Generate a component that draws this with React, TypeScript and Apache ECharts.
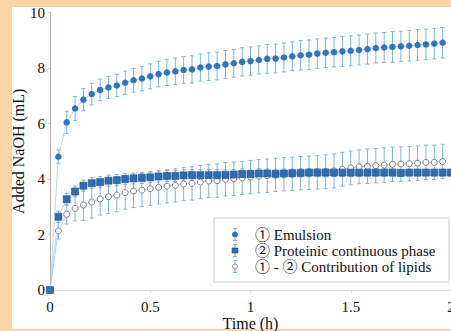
import React, { useEffect, useRef } from "react";
import * as echarts from "echarts";

// time in minutes (every 2.5 min)
const timeMin = [
  0, 2.5, 5, 7.5, 10, 12.5, 15, 17.5, 20, 22.5, 25, 27.5, 30, 32.5, 35, 37.5,
  40, 42.5, 45, 47.5, 50, 52.5, 55, 57.5, 60, 62.5, 65, 67.5, 70, 72.5, 75,
  77.5, 80, 82.5, 85, 87.5, 90, 92.5, 95, 97.5, 100, 102.5, 105, 107.5, 110,
  112.5, 115, 117.5, 120,
];

const emulsion = [
  0, 4.8, 6.04, 6.54, 6.86, 7.06, 7.21, 7.3, 7.37, 7.47, 7.56, 7.62, 7.7,
  7.78, 7.84, 7.88, 7.93, 7.95, 8.02, 8.05, 8.07, 8.13, 8.17, 8.22, 8.25, 8.29,
  8.33, 8.34, 8.38, 8.42, 8.46, 8.48, 8.52, 8.55, 8.57, 8.6, 8.62, 8.65, 8.68,
  8.72, 8.74, 8.76, 8.78, 8.8, 8.83, 8.85, 8.88, 8.91,
];
const emulsionErr = [
  0, 0.25, 0.4, 0.43, 0.4, 0.39, 0.39, 0.4, 0.4, 0.42, 0.43, 0.44, 0.45, 0.46,
  0.47, 0.48, 0.48, 0.49, 0.49, 0.5, 0.5, 0.5, 0.5, 0.51, 0.51, 0.51, 0.52,
  0.52, 0.52, 0.52, 0.53, 0.53, 0.53, 0.53, 0.53, 0.54, 0.54, 0.54, 0.54, 0.54,
  0.54, 0.55, 0.55, 0.55, 0.55, 0.55, 0.55, 0.55,
];

const protein = [
  0, 2.64, 3.27, 3.55, 3.76, 3.85, 3.89, 3.94, 3.96, 4.0, 4.02, 4.04, 4.06,
  4.09, 4.11, 4.11, 4.13, 4.14, 4.14, 4.14, 4.14, 4.15, 4.16, 4.18, 4.18, 4.2,
  4.2, 4.19, 4.2, 4.21, 4.22, 4.23, 4.23, 4.23, 4.23, 4.23, 4.23, 4.23, 4.23,
  4.23, 4.23, 4.23, 4.22, 4.23, 4.23, 4.23, 4.23, 4.23, 4.23,
];
const proteinErr = [
  0, 0.2, 0.22, 0.2, 0.2, 0.2, 0.2, 0.2, 0.2, 0.2, 0.2, 0.2, 0.2, 0.2, 0.2,
  0.2, 0.2, 0.2, 0.2, 0.2, 0.2, 0.18, 0.18, 0.18, 0.17, 0.17, 0.16, 0.16, 0.16,
  0.15, 0.15, 0.15, 0.15, 0.15, 0.14, 0.14, 0.14, 0.14, 0.13, 0.13, 0.13, 0.13,
  0.13, 0.12, 0.12, 0.12, 0.12, 0.12, 0.12,
];

const lipids = [
  0, 2.13, 2.73, 2.94, 3.06, 3.17, 3.28, 3.36, 3.42, 3.51, 3.57, 3.6, 3.65,
  3.7, 3.74, 3.77, 3.82, 3.84, 3.89, 3.93, 3.94, 3.99, 4.01, 4.04, 4.07, 4.1,
  4.12, 4.15, 4.17, 4.19, 4.21, 4.22, 4.24, 4.26, 4.29, 4.35, 4.4, 4.44, 4.46,
  4.48, 4.5, 4.53, 4.54, 4.55, 4.57, 4.6, 4.6, 4.63,
];
const lipidsErr = [
  0, 0.3, 0.35, 0.45, 0.55, 0.58, 0.58, 0.6, 0.6, 0.6, 0.6, 0.6, 0.6, 0.6,
  0.6, 0.6, 0.6, 0.6, 0.6, 0.6, 0.6, 0.6, 0.6, 0.6, 0.6, 0.6, 0.6, 0.6, 0.6,
  0.6, 0.6, 0.6, 0.6, 0.61, 0.61, 0.61, 0.61, 0.61, 0.62, 0.62, 0.62, 0.62,
  0.62, 0.62, 0.62, 0.62, 0.62, 0.62,
];

const xTicks = [0, 0.5, 1, 1.5, 2];
const yTicks = [0, 2, 4, 6, 8, 10];
const seriesNames = [
  "① Emulsion",
  "② Proteinic continuous phase",
  "① - ② Contribution of lipids",
];

const FONT = "'Liberation Serif', 'Times New Roman', 'Noto Sans CJK JP', serif";
const ERR_COLOR = "#7DB5E0";
const LINE_COLOR = "#A9CBEA";
const EMU_COLOR = "#2F74C0";
const SQ_COLOR = "#2E6DB5";
const SQ_BORDER = "#1F4E85";
const CIRC_BORDER = "#7F7F7F";

function pts(vals: number[]) {
  return vals.map((v, i) => [timeMin[i] / 60, v]);
}
function errPts(vals: number[], errs: number[]) {
  return vals.map((v, i) => [timeMin[i] / 60, v - errs[i], v + errs[i]]);
}

function errorRender(params: any, api: any) {
  const x = api.value(0);
  const lo = api.coord([x, api.value(1)]);
  const hi = api.coord([x, api.value(2)]);
  if (Math.abs(hi[1] - lo[1]) < 0.5) return { type: "group", children: [] };
  const style = { stroke: ERR_COLOR, lineWidth: 1 };
  const cap = 2;
  return {
    type: "group",
    children: [
      { type: "line", shape: { x1: lo[0], y1: lo[1], x2: hi[0], y2: hi[1] }, style },
      { type: "line", shape: { x1: lo[0] - cap, y1: lo[1], x2: lo[0] + cap, y2: lo[1] }, style },
      { type: "line", shape: { x1: hi[0] - cap, y1: hi[1], x2: hi[0] + cap, y2: hi[1] }, style },
    ],
  };
}

function legendGraphic() {
  const bx = 214;
  const by = 218;
  const mx = 235;
  const tx = 255;
  const rows = [234.5, 250.5, 266.5];
  const children: any[] = [
    {
      type: "rect",
      shape: { x: bx, y: by, width: 235, height: 64 },
      style: { fill: "#fff", stroke: "#CFCFCF", lineWidth: 1 },
    },
  ];
  rows.forEach((ry, i) => {
    const s = { stroke: ERR_COLOR, lineWidth: 1 };
    children.push({ type: "line", shape: { x1: mx, y1: ry - 6, x2: mx, y2: ry + 6 }, style: s });
    children.push({ type: "line", shape: { x1: mx - 2, y1: ry - 6, x2: mx + 2, y2: ry - 6 }, style: s });
    children.push({ type: "line", shape: { x1: mx - 2, y1: ry + 6, x2: mx + 2, y2: ry + 6 }, style: s });
    if (i === 0) {
      children.push({ type: "circle", shape: { cx: mx, cy: ry, r: 3 }, style: { fill: EMU_COLOR } });
    } else if (i === 1) {
      children.push({
        type: "rect",
        shape: { x: mx - 3, y: ry - 2.5, width: 6, height: 5 },
        style: { fill: SQ_COLOR, stroke: SQ_BORDER, lineWidth: 0.6 },
      });
    } else {
      children.push({
        type: "circle",
        shape: { cx: mx, cy: ry, r: 2.5 },
        style: { fill: "#fff", stroke: CIRC_BORDER, lineWidth: 1 },
      });
    }
    children.push({
      type: "text",
      x: tx,
      y: ry,
      style: {
        text: seriesNames[i],
        font: `15px ${FONT}`,
        fill: "#111",
        verticalAlign: "middle",
        align: "left",
      },
    });
  });
  return { type: "group", z: 100, children };
}

export default function App() {
  const ref = useRef<HTMLDivElement>(null);
  useEffect(() => {
    if (!ref.current) return;
    const chart = echarts.init(ref.current, undefined, { renderer: "svg" });
    const tickStyle = { fontFamily: FONT, fontSize: 15, color: "#111" };
    const nameStyle = { fontFamily: FONT, fontSize: 16, color: "#111" };
    chart.setOption({
      animation: false,
      backgroundColor: "transparent",
      grid: {
        left: 50,
        top: 12.5,
        right: 0,
        bottom: 41,
        containLabel: false,
        outerBoundsMode: "none",
      },
      xAxis: {
        type: "value",
        min: 0,
        max: 2,
        interval: 0.5,
        name: "Time (h)",
        nameLocation: "middle",
        nameGap: 25,
        nameMoveOverlap: false,
        nameTextStyle: nameStyle,
        axisLine: { show: true, lineStyle: { color: "#D9D9D9", width: 1 } },
        axisTick: { show: true, length: 3, lineStyle: { color: "#D9D9D9" } },
        axisLabel: {
          ...tickStyle,
          margin: 9,
          formatter: (v: number) => (xTicks.includes(v) ? String(v) : ""),
        },
        splitLine: { show: false },
      },
      yAxis: {
        type: "value",
        min: 0,
        max: 10,
        interval: 2,
        name: "Added NaOH (mL)",
        nameLocation: "middle",
        nameGap: 24,
        nameMoveOverlap: false,
        nameTextStyle: nameStyle,
        axisLine: { show: true, lineStyle: { color: "#B5A9A4", width: 1 } },
        axisTick: { show: true, length: 2, lineStyle: { color: "#D9D9D9" } },
        axisLabel: {
          ...tickStyle,
          margin: 5,
          padding: [4, 0, 0, 0],
          formatter: (v: number) => (yTicks.includes(v) ? String(v) : ""),
        },
        splitLine: { show: false },
      },
      graphic: [legendGraphic()],
      series: [
        {
          type: "custom",
          name: "err-lipids",
          renderItem: errorRender,
          data: errPts(lipids, lipidsErr),
          encode: { x: 0, y: [1, 2] },
          z: 1,
          silent: true,
        },
        {
          type: "custom",
          name: "err-protein",
          renderItem: errorRender,
          data: errPts(protein, proteinErr),
          encode: { x: 0, y: [1, 2] },
          z: 1,
          silent: true,
        },
        {
          type: "custom",
          name: "err-emulsion",
          renderItem: errorRender,
          data: errPts(emulsion, emulsionErr),
          encode: { x: 0, y: [1, 2] },
          z: 1,
          silent: true,
        },
        {
          type: "line",
          name: seriesNames[2],
          data: pts(lipids),
          symbol: "circle",
          symbolSize: 6,
          showAllSymbol: true,
          lineStyle: { color: LINE_COLOR, width: 0.8 },
          itemStyle: { color: "#ffffff", borderColor: CIRC_BORDER, borderWidth: 1 },
          z: 3,
        },
        {
          type: "line",
          name: seriesNames[1],
          data: pts(protein),
          symbol: "rect",
          symbolSize: 7,
          showAllSymbol: true,
          lineStyle: { color: LINE_COLOR, width: 0.8 },
          itemStyle: { color: SQ_COLOR, borderColor: SQ_BORDER, borderWidth: 0.6 },
          z: 4,
        },
        {
          type: "line",
          name: seriesNames[0],
          data: pts(emulsion),
          symbol: "circle",
          symbolSize: 6.5,
          showAllSymbol: true,
          lineStyle: { color: LINE_COLOR, width: 0.8 },
          itemStyle: { color: EMU_COLOR, borderWidth: 0 },
          z: 5,
        },
      ],
    });
    return () => chart.dispose();
  }, []);
  return (
    <div
      style={{
        position: "fixed",
        left: 0,
        top: 0,
        width: 451,
        height: 331,
        background: "#FDD5A6",
        overflow: "hidden",
      }}
    >
      <div
        style={{
          position: "absolute",
          left: 12,
          top: 7,
          width: 439,
          height: 322,
          background: "#ffffff",
        }}
      />
      <div
        ref={ref}
        style={{ position: "absolute", left: 0, top: 0, width: 451, height: 331 }}
      />
    </div>
  );
}
